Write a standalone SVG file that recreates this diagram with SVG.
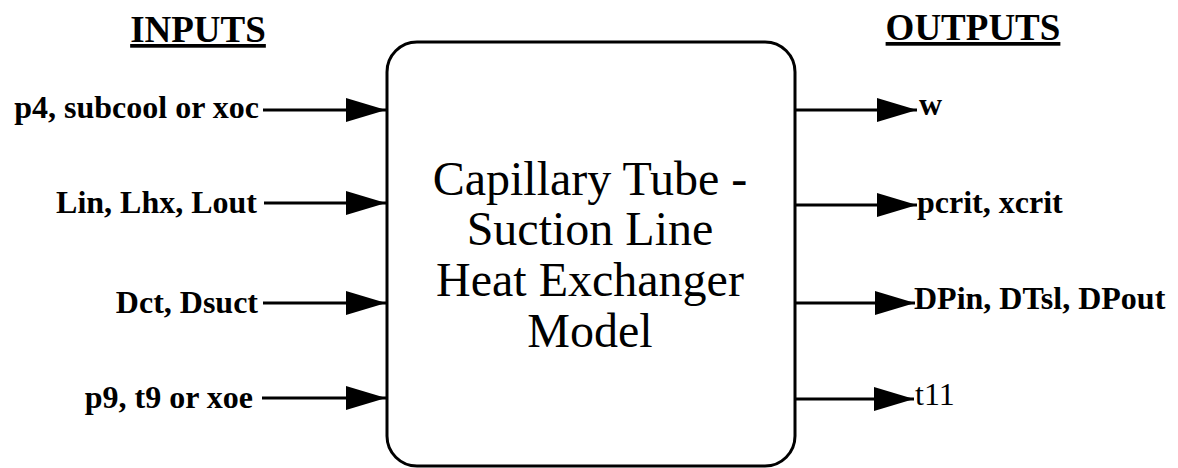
<svg xmlns="http://www.w3.org/2000/svg" width="1178" height="468" viewBox="0 0 1178 468">
<style>
.hd{font-family:"Liberation Serif",serif;font-weight:bold;font-size:37px;fill:#000;text-decoration:underline}
.lb{font-family:"Liberation Serif",serif;font-weight:bold;font-size:32px;fill:#000}
.lr{font-family:"Liberation Serif",serif;font-size:32px;fill:#000}
.ct{font-family:"Liberation Serif",serif;font-size:48px;fill:#000}
.ln{stroke:#000;stroke-width:3;fill:none}
</style>
<defs>
<marker id="ah" viewBox="0 0 40 24" refX="40" refY="12" markerWidth="40" markerHeight="24" markerUnits="userSpaceOnUse" orient="auto">
<path d="M0,0 L40,12 L0,24 Z" fill="#000"/>
</marker>
</defs>
<rect width="1178" height="468" fill="#fff"/>
<g id="headers">
<text class="hd" x="198" y="42" text-anchor="middle">INPUTS</text>
<text class="hd" x="973" y="40" text-anchor="middle">OUTPUTS</text>
</g>
<g id="model">
<rect x="387" y="42" width="408" height="424" rx="30" ry="30" fill="#fff" stroke="#000" stroke-width="3"/>
<text class="ct" text-anchor="middle" x="590" y="195">Capillary Tube -</text>
<text class="ct" text-anchor="middle" x="590" y="245">Suction Line</text>
<text class="ct" text-anchor="middle" x="590" y="296">Heat Exchanger</text>
<text class="ct" text-anchor="middle" x="590" y="347">Model</text>
</g>
<g id="inputs">
<text class="lb" x="259" y="118" text-anchor="end">p4, subcool or xoc</text>
<text class="lb" x="257" y="213" text-anchor="end">Lin, Lhx, Lout</text>
<text class="lb" x="258" y="313" text-anchor="end">Dct, Dsuct</text>
<text class="lb" x="253" y="408" text-anchor="end">p9, t9 or xoe</text>
</g>
<g id="outputs">
<text class="lb" x="919" y="115">w</text>
<text class="lb" x="917" y="213">pcrit, xcrit</text>
<text class="lb" x="914" y="309">DPin, DTsl, DPout</text>
<text class="lr" x="915" y="405">t11</text>
</g>
<g id="connectors">
<line class="ln" x1="263" y1="110" x2="386" y2="110" marker-end="url(#ah)"/>
<line class="ln" x1="264" y1="203" x2="386" y2="203" marker-end="url(#ah)"/>
<line class="ln" x1="263" y1="303" x2="386" y2="303" marker-end="url(#ah)"/>
<line class="ln" x1="262" y1="398" x2="386" y2="398" marker-end="url(#ah)"/>
<line class="ln" x1="795" y1="110" x2="917" y2="110" marker-end="url(#ah)"/>
<line class="ln" x1="795" y1="205" x2="917" y2="205" marker-end="url(#ah)"/>
<line class="ln" x1="795" y1="303" x2="915" y2="303" marker-end="url(#ah)"/>
<line class="ln" x1="794" y1="399" x2="914" y2="399" marker-end="url(#ah)"/>
</g>
</svg>
